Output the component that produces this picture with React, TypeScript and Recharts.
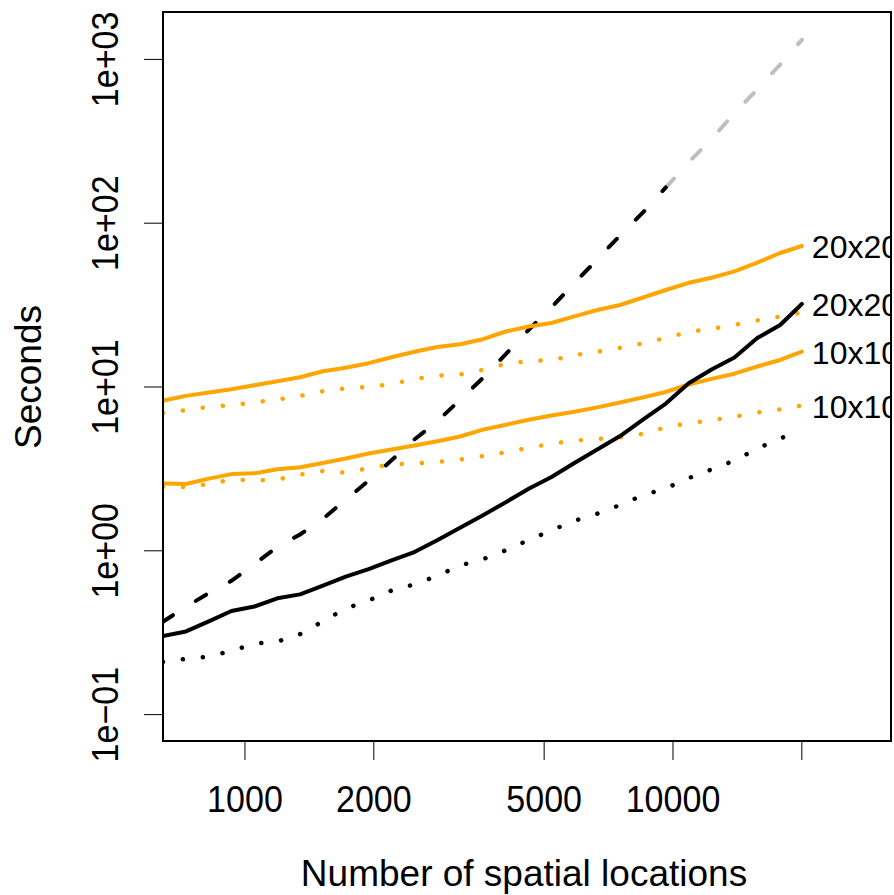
import { LineChart, Line, XAxis, YAxis, LabelList } from "recharts";

// number of spatial locations (x, log scale)
const sizes = [643, 728, 823, 930, 1052, 1190, 1345, 1521, 1720, 1945, 2200, 2488, 2813, 3181, 3598, 4068, 4601, 5203, 5884, 6654, 7524, 8509, 9623, 10882, 12307, 13917, 15738, 17798, 20000];

// seconds per series
const orange20Solid = [8.25, 8.83, 9.26, 9.69, 10.24, 10.85, 11.47, 12.47, 13.1, 13.98, 15.2, 16.4, 17.55, 18.23, 19.58, 21.82, 23.41, 24.59, 27.02, 29.52, 31.67, 35.19, 39.1, 43.26, 46.48, 50.85, 57.41, 65.79, 72.59];
const orange20Dotted = [6.94, 7.23, 7.57, 7.75, 8.07, 8.38, 8.81, 9.43, 9.81, 10.01, 10.41, 11.19, 11.74, 11.92, 12.74, 13.86, 14.41, 14.57, 15.64, 16.4, 17.35, 18.49, 19.91, 21.73, 22.63, 23.98, 25.5, 26.94, 28.5];
const orange10Solid = [2.58, 2.56, 2.76, 2.94, 2.97, 3.15, 3.24, 3.44, 3.66, 3.93, 4.15, 4.39, 4.67, 4.99, 5.49, 5.88, 6.31, 6.7, 7.06, 7.51, 8.05, 8.64, 9.33, 10.36, 11.21, 12.06, 13.34, 14.62, 16.43];
const orange10Dotted = [2.45, 2.45, 2.56, 2.72, 2.69, 2.72, 2.92, 3.07, 3.0, 3.19, 3.38, 3.41, 3.48, 3.61, 3.79, 3.99, 4.25, 4.51, 4.71, 4.81, 4.92, 5.18, 5.67, 6.01, 6.27, 6.59, 6.98, 7.31, 7.71];
const black20Solid = [0.302, 0.322, 0.371, 0.429, 0.457, 0.513, 0.542, 0.612, 0.696, 0.772, 0.875, 0.983, 1.159, 1.382, 1.649, 1.98, 2.39, 2.822, 3.436, 4.159, 5.022, 6.324, 7.929, 10.53, 12.79, 15.16, 19.91, 23.9, 32.12];
const blackDotted = [0.21, 0.219, 0.226, 0.245, 0.271, 0.279, 0.31, 0.371, 0.445, 0.497, 0.572, 0.624, 0.703, 0.814, 0.889, 1.007, 1.164, 1.334, 1.525, 1.685, 1.904, 2.185, 2.404, 2.779, 3.14, 3.559, 4.206, 4.861, 5.387];
const blackDashed = [0.369, 0.455, 0.552, 0.656, 0.83, 1.056, 1.259, 1.568, 2.054, 2.683, 3.568, 4.787, 6.158, 8.366, 11.36, 15.88, 22.35, 30.62, 43.14, 60.12, 84.36, 116.4, 165.4, null, null, null, null, null, null];
const greyDashed = [null, null, null, null, null, null, null, null, null, null, null, null, null, null, null, null, null, null, null, null, null, null, 165.4, 235.4, 327.1, 469.5, 656.9, 929.6, 1317];

const xTicks = [1000, 2000, 5000, 10000, 20000];
const xTickLabels = ["1000", "2000", "5000", "10000", ""];
const yTicks = [0.1, 1, 10, 100, 1000];
const yTickLabels = ["1e\u221201", "1e+00", "1e+01", "1e+02", "1e+03"];

const rows = sizes.map((n, i) => ({
  n,
  o20: orange20Solid[i],
  o20d: orange20Dotted[i],
  o10: orange10Solid[i],
  o10d: orange10Dotted[i],
  b20: black20Solid[i],
  bdot: blackDotted[i],
  bdash: blackDashed[i],
  gdash: greyDashed[i],
}));

const FONT = "'Liberation Sans', Arial, Helvetica, sans-serif";
const ORANGE = "#FFA500";
const LAST = sizes.length - 1;

function XTick(props: any) {
  const i = xTicks.indexOf(props.payload.value);
  return (
    <g transform={`translate(${props.x},812)`}>
      <text textAnchor="middle" fontSize={37} fontFamily={FONT} fill="#000" transform="scale(0.92,1)">
        {xTickLabels[i]}
      </text>
    </g>
  );
}

function YTick(props: any) {
  const i = yTicks.findIndex((t) => Math.abs(t - props.payload.value) < t * 1e-6);
  return (
    <g transform={`translate(118,${props.y}) rotate(-90)`}>
      <text textAnchor="middle" fontSize={37} fontFamily={FONT} fill="#000" transform="scale(0.92,1)">
        {yTickLabels[i]}
      </text>
    </g>
  );
}

// curve names at the right end, clipped by the plot box like the original
const endLabel = (text: string) => (p: any) =>
  p.index === LAST ? (
    <text x={p.x + 10} y={p.y + 12} fontSize={32} fontFamily={FONT} fill="#000">
      {text}
    </text>
  ) : null;

export default function App() {
  return (
    <div style={{ position: "absolute", left: 0, top: 0, width: 894, height: 895, overflow: "hidden", background: "#fff" }}>
      <LineChart width={892} height={895} data={rows} margin={{ top: 12, right: 1, bottom: 0, left: 0 }}>
        <XAxis
          dataKey="n"
          type="number"
          scale="log"
          domain={[643.4, 32310]}
          allowDataOverflow
          ticks={xTicks}
          tick={XTick}
          tickSize={19}
          tickLine={{ stroke: "#000", strokeWidth: 1 }}
          axisLine={false}
          height={154}
          label={{
            content: () => (
              <text x={524} y={886} textAnchor="middle" fontSize={37} fontFamily={FONT} fill="#000">
                Number of spatial locations
              </text>
            ),
          }}
        />
        <YAxis
          type="number"
          scale="log"
          domain={[0.06901, 1947]}
          allowDataOverflow
          ticks={yTicks}
          tick={YTick}
          tickSize={19}
          tickLine={{ stroke: "#000", strokeWidth: 1 }}
          axisLine={false}
          width={163}
          label={{
            content: () => (
              <text
                x={0}
                y={0}
                transform="translate(41,377) rotate(-90)"
                textAnchor="middle"
                fontSize={37}
                fontFamily={FONT}
                fill="#000"
              >
                Seconds
              </text>
            ),
          }}
        />
        <Line dataKey="gdash" stroke="#BEBEBE" strokeWidth={4} strokeDasharray="12 27" strokeLinecap="round" dot={false} activeDot={false} isAnimationActive={false} />
        <Line dataKey="bdash" stroke="#000" strokeWidth={4} strokeDasharray="12 27" strokeLinecap="round" dot={false} activeDot={false} isAnimationActive={false} />
        <Line dataKey="bdot" stroke="#000" strokeWidth={4.5} strokeDasharray="0.1 20" strokeLinecap="round" dot={false} activeDot={false} isAnimationActive={false} />
        <Line dataKey="o10d" stroke={ORANGE} strokeWidth={4.5} strokeDasharray="0.1 20" strokeLinecap="round" dot={false} activeDot={false} isAnimationActive={false}>
          <LabelList dataKey="o10d" content={endLabel("10x10")} />
        </Line>
        <Line dataKey="o20d" stroke={ORANGE} strokeWidth={4.5} strokeDasharray="0.1 20" strokeLinecap="round" dot={false} activeDot={false} isAnimationActive={false} />
        <Line dataKey="o10" stroke={ORANGE} strokeWidth={4} strokeLinecap="round" strokeLinejoin="round" dot={false} activeDot={false} isAnimationActive={false}>
          <LabelList dataKey="o10" content={endLabel("10x10")} />
        </Line>
        <Line dataKey="o20" stroke={ORANGE} strokeWidth={4} strokeLinecap="round" strokeLinejoin="round" dot={false} activeDot={false} isAnimationActive={false}>
          <LabelList dataKey="o20" content={endLabel("20x20")} />
        </Line>
        <Line dataKey="b20" stroke="#000" strokeWidth={4} strokeLinecap="round" strokeLinejoin="round" dot={false} activeDot={false} isAnimationActive={false}>
          <LabelList dataKey="b20" content={endLabel("20x20")} />
        </Line>
      </LineChart>
      <div
        style={{
          position: "absolute",
          left: 162,
          top: 11,
          width: 730,
          height: 731,
          border: "2px solid #000",
          boxSizing: "border-box",
          pointerEvents: "none",
        }}
      />
    </div>
  );
}
